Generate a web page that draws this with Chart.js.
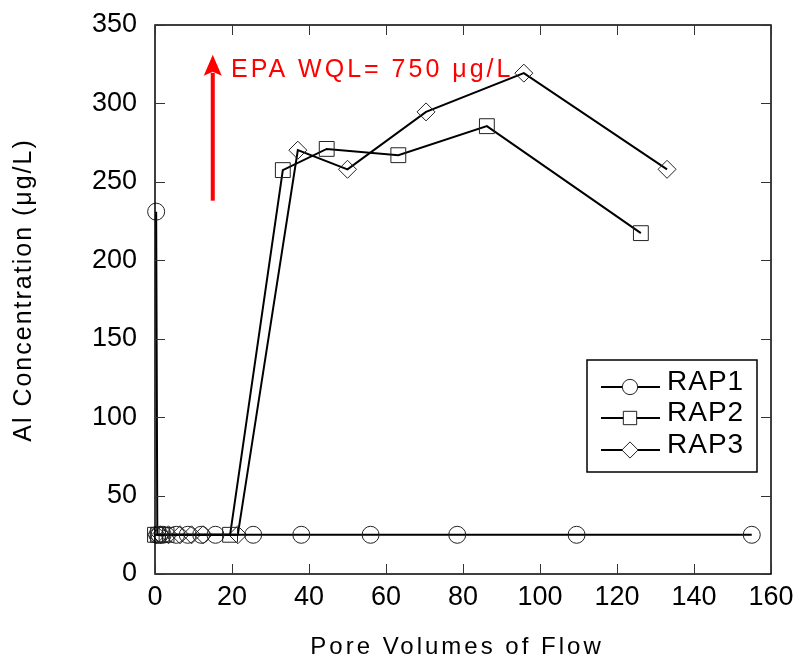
<!DOCTYPE html>
<html><head><meta charset="utf-8">
<script src="https://cdn.jsdelivr.net/npm/chart.js@4/dist/chart.umd.min.js"></script>
<style>html,body{margin:0;padding:0;background:#fff}</style>
</head><body>
<canvas id="c" width="796" height="666"></canvas>
<script>
// ---- data ----
const seriesNames = ['RAP1', 'RAP2', 'RAP3'];
const rap1X = [0.3, 0.6, 1.2, 2, 5.5, 8.5, 12, 15.7, 25.5, 38, 56, 78.5, 109.5, 155];
const rap1Y = [231, 25, 25, 25, 25, 25, 25, 25, 25, 25, 25, 25, 25, 25];
const rap2X = [0, 0.8, 1.8, 3, 19.5, 33.2, 44.6, 63.2, 86.2, 126.2];
const rap2Y = [25, 25, 25, 25, 25, 257.5, 271, 267, 285.5, 217.3];
const rap3X = [0.4, 1.5, 3.5, 6.5, 9.5, 12.5, 21.5, 37.1, 50, 70.4, 95.8, 133];
const rap3Y = [25, 25, 25, 25, 25, 25, 25, 270.2, 258, 294.6, 319.3, 258];
const xTickValues = [0, 20, 40, 60, 80, 100, 120, 140, 160];
const yTickValues = [0, 50, 100, 150, 200, 250, 300, 350];
const xTitle = 'Pore Volumes of Flow';
const yTitle = 'Al Concentration (\u03BCg/L)';
const noteText = 'EPA WQL= 750 \u03BCg/L';
const arrowX = 15, arrowFromY = 238, arrowToY = 331;

const FONT = '"Liberation Sans", Arial, sans-serif';
const pts = (xs, ys) => xs.map((x, i) => ({x: x, y: ys[i]}));

const styles = [
  {pointStyle: 'circle', pointRadius: 8.5},
  {pointStyle: 'rect', pointRadius: 10.5},
  {pointStyle: 'rectRot', pointRadius: 9}
];
const datasets = [pts(rap1X, rap1Y), pts(rap2X, rap2Y), pts(rap3X, rap3Y)].map((d, i) => ({
  label: seriesNames[i],
  data: d,
  showLine: true,
  borderColor: '#000',
  borderWidth: 2,
  tension: 0,
  pointStyle: styles[i].pointStyle,
  pointRadius: styles[i].pointRadius,
  pointHoverRadius: styles[i].pointRadius,
  pointBorderColor: '#222',
  pointBorderWidth: 1,
  pointBackgroundColor: 'rgba(0,0,0,0)',
  clip: false
}));

const decor = {
  id: 'decor',
  afterDraw(chart) {
    const ctx = chart.ctx;
    const xs = chart.scales.x, ys = chart.scales.y;
    const a = chart.chartArea;
    ctx.save();
    // frame
    ctx.strokeStyle = '#000';
    ctx.lineWidth = 1.5;
    ctx.strokeRect(a.left, a.top, a.right - a.left, a.bottom - a.top);
    // inward ticks
    ctx.strokeStyle = '#333';
    ctx.lineWidth = 1;
    ctx.beginPath();
    xTickValues.forEach(v => {
      const px = Math.round(xs.getPixelForValue(v)) + 0.5;
      ctx.moveTo(px, a.bottom); ctx.lineTo(px, a.bottom - 10);
      ctx.moveTo(px, a.top); ctx.lineTo(px, a.top + 10);
    });
    yTickValues.forEach(v => {
      const py = Math.round(ys.getPixelForValue(v)) + 0.5;
      ctx.moveTo(a.left, py); ctx.lineTo(a.left + 10, py);
      ctx.moveTo(a.right, py); ctx.lineTo(a.right - 10, py);
    });
    ctx.stroke();

    // axis titles
    ctx.fillStyle = '#000';
    ctx.font = '24px ' + FONT;
    ctx.letterSpacing = '3px';
    ctx.textAlign = 'center';
    ctx.textBaseline = 'middle';
    ctx.fillText(xTitle, 457, 647);
    ctx.save();
    ctx.translate(24, 290);
    ctx.rotate(-Math.PI / 2);
    ctx.font = '25px ' + FONT;
    ctx.letterSpacing = '2px';
    ctx.fillText(yTitle, 0, 0);
    ctx.restore();

    // red arrow + note
    const ax = xs.getPixelForValue(arrowX);
    const ay0 = ys.getPixelForValue(arrowFromY);
    const ay1 = ys.getPixelForValue(arrowToY);
    ctx.fillStyle = '#ff0000';
    ctx.fillRect(ax - 2, ay1 + 18, 4, ay0 - ay1 - 18);
    ctx.beginPath();
    ctx.moveTo(ax, ay1);
    ctx.lineTo(ax - 9, ay1 + 21);
    ctx.lineTo(ax, ay1 + 17);
    ctx.lineTo(ax + 9, ay1 + 21);
    ctx.closePath();
    ctx.fill();
    ctx.font = '25px ' + FONT;
    ctx.letterSpacing = '3px';
    ctx.textAlign = 'left';
    ctx.textBaseline = 'alphabetic';
    ctx.fillText(noteText, 231, 77);

    // legend
    const L = 587, T = 360, R = 757, B = 472;
    ctx.fillStyle = '#fff';
    ctx.fillRect(L, T, R - L, B - T);
    ctx.strokeStyle = '#000';
    ctx.lineWidth = 1.5;
    ctx.strokeRect(L, T, R - L, B - T);
    const rowY = [387, 418, 450];
    chart.data.datasets.forEach((ds, i) => {
      const y = rowY[i];
      ctx.strokeStyle = '#000';
      ctx.lineWidth = 2;
      ctx.beginPath();
      ctx.moveTo(601, y); ctx.lineTo(660, y);
      ctx.stroke();
      ctx.fillStyle = '#fff';
      ctx.strokeStyle = '#222';
      ctx.lineWidth = 1;
      Chart.helpers.drawPoint(ctx, {pointStyle: ds.pointStyle, radius: ds.pointRadius * 0.9, borderWidth: 1}, 630, y);
      ctx.fillStyle = '#000';
      ctx.font = '28px ' + FONT;
      ctx.letterSpacing = '1px';
      ctx.textAlign = 'left';
      ctx.textBaseline = 'alphabetic';
      ctx.fillText(ds.label, 667, y + 3);
    });
    ctx.restore();
  }
};

new Chart(document.getElementById('c'), {
  type: 'scatter',
  data: {datasets: datasets},
  options: {
    responsive: false,
    animation: false,
    events: [],
    layout: {padding: {top: 25, right: 25, left: 0, bottom: 0}},
    plugins: {legend: {display: false}, tooltip: {enabled: false}},
    scales: {
      x: {
        type: 'linear', min: 0, max: 160,
        afterBuildTicks: s => { s.ticks = xTickValues.map(v => ({value: v})); },
        afterFit: s => { s.height = 92; s.paddingLeft = 0; s.paddingRight = 0; },
        grid: {display: false, drawTicks: false},
        border: {display: false},
        ticks: {color: '#000', font: {family: FONT, size: 27}, padding: 7, maxRotation: 0}
      },
      y: {
        type: 'linear', min: 0, max: 350,
        afterBuildTicks: s => { s.ticks = yTickValues.map(v => ({value: v})); },
        afterFit: s => { s.width = 155; s.paddingTop = 0; s.paddingBottom = 0; },
        grid: {display: false, drawTicks: false},
        border: {display: false},
        ticks: {color: '#000', font: {family: FONT, size: 27}, padding: 18}
      }
    }
  },
  plugins: [decor]
});
</script>
</body></html>
